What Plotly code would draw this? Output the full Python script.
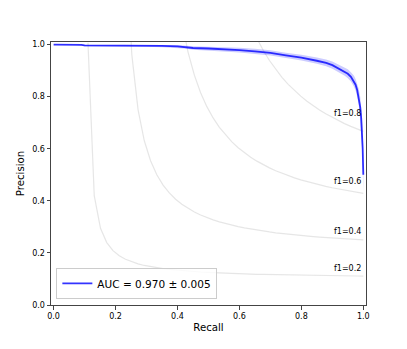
"""
Precision-recall curve with iso-F1 guide lines
"""

import numpy as np
import plotly.graph_objects as go

# Mean PR curve
recall = [0.0, 0.05, 0.09, 0.10, 0.15, 0.20, 0.25, 0.30, 0.35, 0.40, 0.43, 0.45, 0.50,
          0.55, 0.60, 0.65, 0.70, 0.75, 0.80, 0.85, 0.88, 0.90, 0.92, 0.94, 0.95,
          0.96, 0.97, 0.975, 0.98, 0.985, 0.99, 0.993, 0.996, 0.998, 1.0]
precision = [1.0, 1.0, 0.999, 0.997, 0.997, 0.997, 0.997, 0.996, 0.995, 0.993, 0.990, 0.987, 0.985,
             0.983, 0.979, 0.974, 0.968, 0.959, 0.950, 0.938, 0.930, 0.921, 0.909, 0.896, 0.888,
             0.876, 0.859, 0.846, 0.827, 0.800, 0.760, 0.720, 0.660, 0.600, 0.500]
precision_upper = [1.0, 1.0, 1.0, 1.0, 1.0, 1.0, 1.0, 1.0, 0.999, 0.998, 0.996, 0.994, 0.992,
                   0.991, 0.988, 0.984, 0.978, 0.969, 0.961, 0.950, 0.943, 0.935, 0.924, 0.912, 0.905,
                   0.894, 0.880, 0.868, 0.852, 0.830, 0.800, 0.770, 0.720, 0.670, 0.520]
precision_lower = [1.0, 1.0, 0.997, 0.993, 0.993, 0.993, 0.993, 0.992, 0.990, 0.988, 0.984, 0.980, 0.977,
                   0.975, 0.970, 0.964, 0.958, 0.949, 0.939, 0.926, 0.917, 0.907, 0.894, 0.880, 0.871,
                   0.858, 0.838, 0.824, 0.802, 0.770, 0.720, 0.670, 0.600, 0.530, 0.435]

auc_label = "AUC = 0.970 ± 0.005"

# Iso-F1 levels (guide lines)
f_scores = [0.2, 0.4, 0.6, 0.8]

fig = go.Figure()

# Iso-F1 curves
x_grid = np.linspace(0.01, 1, 50)
for f in f_scores:
    y = f * x_grid / (2 * x_grid - f)
    mask = y >= 0
    fig.add_trace(go.Scatter(
        x=x_grid[mask], y=y[mask], mode='lines',
        line=dict(color='rgba(128,128,128,0.2)', width=1.2),
        showlegend=False, hoverinfo='skip'
    ))
    fig.add_annotation(
        x=0.9, y=y[45] + 0.02, text=f"f1={f:0.1f}", showarrow=False,
        xanchor='left', yanchor='bottom', yshift=-4.5,
        font=dict(family='DejaVu Sans', size=8, color='black')
    )

# Std band
fig.add_trace(go.Scatter(
    x=recall, y=precision_upper, mode='lines', line=dict(width=0),
    showlegend=False, hoverinfo='skip'
))
fig.add_trace(go.Scatter(
    x=recall, y=precision_lower, mode='lines', line=dict(width=0),
    fill='tonexty', fillcolor='rgba(0,0,255,0.2)',
    showlegend=False, hoverinfo='skip'
))

# Mean curve
fig.add_trace(go.Scatter(
    x=recall, y=precision, mode='lines',
    line=dict(color='rgba(0,0,255,0.8)', width=1.8),
    name=auc_label
))

# page body has an 8px margin, so the figure is a little smaller than the window
fig.update_layout(
    width=399, height=341,
    margin=dict(l=43, r=41, t=34, b=44),
    plot_bgcolor='white', paper_bgcolor='white',
    font=dict(family='DejaVu Sans', size=8, color='black'),
    showlegend=True,
    legend=dict(
        x=0.017, y=0.023, xanchor='left', yanchor='bottom',
        bgcolor='rgba(255,255,255,0.8)', bordercolor='#cccccc', borderwidth=1,
        font=dict(size=10.5), itemwidth=30
    ),
    xaxis=dict(
        range=[-0.0084, 1.0087], tickvals=[0, 0.2, 0.4, 0.6, 0.8, 1.0],
        tickformat='.1f', showgrid=False, zeroline=False,
        showline=True, linecolor='#444444', linewidth=1, mirror=True,
        ticks='outside', ticklen=3.5, tickcolor='#444444',
        title=dict(text='Recall', font=dict(size=10.2), standoff=3)
    ),
    yaxis=dict(
        range=[0, 1.01], tickvals=[0, 0.2, 0.4, 0.6, 0.8, 1.0],
        tickformat='.1f', showgrid=False, zeroline=False,
        showline=True, linecolor='#444444', linewidth=1, mirror=True,
        ticks='outside', ticklen=3.5, tickcolor='#444444',
        title=dict(text='Precision', font=dict(size=10.2), standoff=5)
    ),
)

fig.write_html("out.html")
